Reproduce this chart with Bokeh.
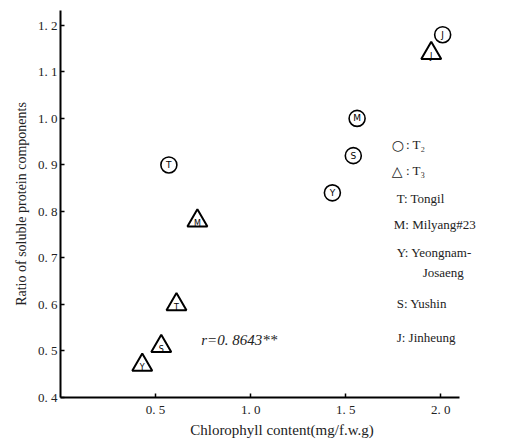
from bokeh.plotting import figure
from bokeh.models import Range1d, FixedTicker, Label, ColumnDataSource
from bokeh.core.properties import value
from bokeh.embed import file_html
from bokeh.resources import INLINE

# T2 (circles)
t2_x = [0.57, 1.56, 1.54, 1.43, 2.01]
t2_y = [0.90, 1.00, 0.92, 0.84, 1.18]
t2_lab = ["T", "M", "S", "Y", "J"]
# T3 (triangles)
t3_x = [0.61, 0.72, 0.53, 0.43, 1.95]
t3_y = [0.60, 0.78, 0.51, 0.47, 1.14]
t3_lab = ["T", "M", "S", "Y", "J"]

x_ticks = [0.5, 1.0, 1.5, 2.0]
x_tick_labels = ["0. 5", "1. 0", "1. 5", "2. 0"]
y_ticks = [0.4, 0.5, 0.6, 0.7, 0.8, 0.9, 1.0, 1.1, 1.2]
y_tick_labels = ["0. 4", "0. 5", "0. 6", "0. 7", "0. 8", "0. 9", "1. 0", "1. 1", "1. 2"]

legend_symbols = ["○", "△"]
legend_sym_text = [": T₂", ": T₃"]
legend_lines = ["T:  Tongil", "M:  Milyang#23", "Y:  Yeongnam-",
                "Josaeng", "S:  Yushin", "J:  Jinheung"]

SERIF = "Liberation Serif"

p = figure(width=503, height=440, output_backend="svg", toolbar_location=None,
           x_range=Range1d(0, 2.33), y_range=Range1d(0.4, 1.232),
           min_border_left=60, min_border_right=0, min_border_top=10, min_border_bottom=42)
p.outline_line_color = None
p.grid.visible = False

for ax in (p.xaxis, p.yaxis):
    ax.axis_line_width = 2
    ax.axis_line_color = "black"
    ax.major_tick_in = 4
    ax.major_tick_out = 0
    ax.major_tick_line_width = 1.5
    ax.minor_tick_line_color = None
    ax.major_label_text_font = SERIF
    ax.major_label_text_font_size = "13px"
    ax.major_label_text_color = "#222222"
    ax.axis_label_text_font = SERIF
    ax.axis_label_text_font_style = "normal"
    ax.axis_label_text_color = "#222222"

p.xaxis.ticker = FixedTicker(ticks=x_ticks)
p.yaxis.ticker = FixedTicker(ticks=y_ticks)
p.xaxis.major_label_overrides = dict(zip(x_ticks, x_tick_labels))
p.yaxis.major_label_overrides = dict(zip(y_ticks, y_tick_labels))
p.xaxis.bounds = (0, 2.1)
p.xaxis.axis_label = "Chlorophyll content(mg/f.w.g)"
p.yaxis.axis_label = "Ratio of soluble protein components"
p.xaxis.axis_label_text_font_size = "15px"
p.yaxis.axis_label_text_font_size = "14px"
p.xaxis.major_label_standoff = 4
p.xaxis.axis_label_standoff = 2
p.yaxis.major_label_standoff = 3
p.yaxis.axis_label_standoff = 6

s2 = ColumnDataSource(dict(x=t2_x, y=t2_y, lab=t2_lab))
s3 = ColumnDataSource(dict(x=t3_x, y=t3_y, lab=t3_lab))

p.scatter("x", "y", source=s2, marker="circle", size=16, fill_color="white",
          line_color="black", line_width=1.6)
p.text("x", "y", text="lab", source=s2, text_align="center", text_baseline="middle",
       text_font=value("DejaVu Sans"), text_font_size="9px", text_color="black")

p.scatter("x", "y", source=s3, marker="triangle", size=20, fill_color="white",
          line_color="black", line_width=2)
p.text("x", "y", text="lab", source=s3, text_align="center", text_baseline="middle",
       y_offset=3, text_font=value("DejaVu Sans"), text_font_size="8px", text_color="black")

# legend text
sym_pos = [(1.742, 0.943), (1.742, 0.887)]
for (lx, ly), s, t in zip(sym_pos, legend_symbols, legend_sym_text):
    p.add_layout(Label(x=lx, y=ly, text=s, text_font="DejaVu Sans", text_font_size="14px",
                       text_baseline="middle", text_color="#222222"))
    p.add_layout(Label(x=lx + 0.075, y=ly, text=t, text_font=SERIF, text_font_size="13px",
                       text_baseline="middle", text_color="#222222"))

leg_pos = [(1.768, 0.828), (1.753, 0.772), (1.768, 0.711),
           (1.905, 0.668), (1.768, 0.602), (1.768, 0.530)]
for (lx, ly), t in zip(leg_pos, legend_lines):
    p.add_layout(Label(x=lx, y=ly, text=t, text_font=SERIF, text_font_size="13px",
                       text_baseline="middle", text_color="#222222"))

p.add_layout(Label(x=0.74, y=0.524, text="r=0. 8643**", text_font=SERIF,
                   text_font_size="15px", text_font_style="italic",
                   text_baseline="middle", text_color="#222222"))

open("out.html", "w").write(file_html(p, INLINE))
